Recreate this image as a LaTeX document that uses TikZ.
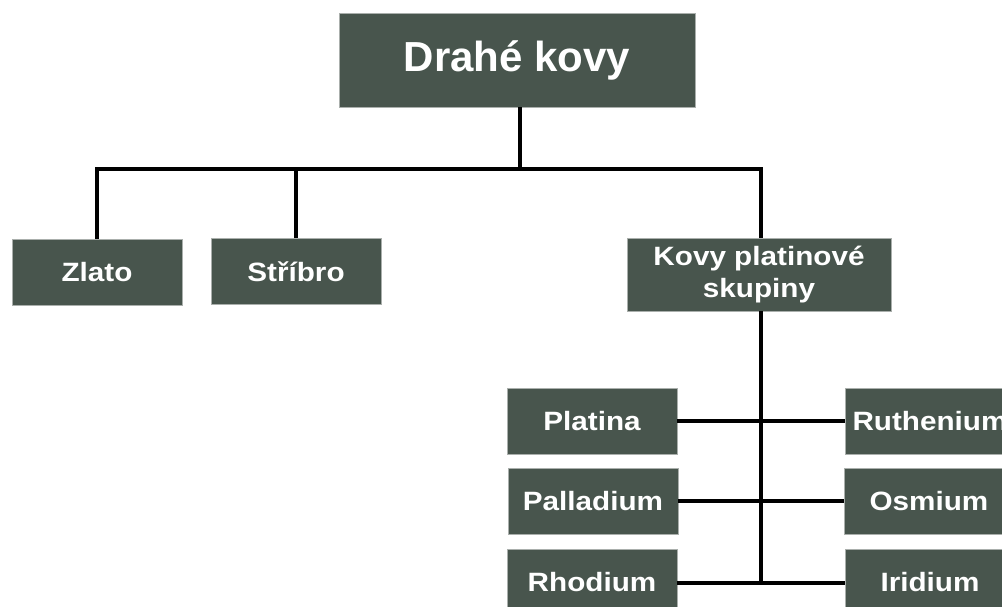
\documentclass[tikz,border=0pt]{standalone}
\usepackage{fontspec}
\setmainfont{Liberation Sans}
\newfontfamily\boxfont[FakeStretch=1.12]{Liberation Sans}
\definecolor{boxgreen}{RGB}{72,85,77}
\definecolor{boxedge}{RGB}{170,175,172}
\begin{document}
\begin{tikzpicture}[x=1pt,y=-1pt,
  box/.style={fill=boxgreen,draw=boxedge,line width=0.8pt,text=white,inner sep=0pt,
    font=\boxfont\bfseries\fontsize{26.5}{32}\selectfont,align=center},
  small/.style={box,minimum width=170pt,minimum height=66pt},
  conn/.style={line width=4pt,black}]
\useasboundingbox (0,0) rectangle (1002,607);
\node[box,minimum width=356pt,minimum height=94pt,font=\bfseries\fontsize{42}{48}\selectfont] (top) at (517,60) {Drahé kovy};
\node[small] (zlato) at (97,272) {Zlato};
\node[small] (stribro) at (296,271.5) {Stříbro};
\node[box,minimum width=264pt,minimum height=73pt] (kps) at (759,274.5) {Kovy platinové\\skupiny};
\node[small] (platina) at (592,421) {Platina};
\node[small] (pallad) at (593,501) {Palladium};
\node[small] (rhod) at (592,582) {Rhodium};
\node[small] (ruth) at (930,421) {Ruthenium};
\node[small] (osm) at (929,501) {Osmium};
\node[small] (irid) at (930,582) {Iridium};
\coordinate (bus) at (520,169);
\coordinate (spine) at (761,583);
\draw[conn] (top.south -| bus) -- (bus);
\draw[conn] (zlato.north) |- (bus);
\draw[conn] (bus) -| (kps.north -| spine);
\draw[conn] (stribro.north) -- (stribro.north |- bus);
\draw[conn] (kps.south -| spine) -- (spine);
\draw[conn] (platina.east) -- (ruth.west);
\draw[conn] (pallad.east) -- (osm.west);
\draw[conn] (rhod.east |- spine) -- (irid.west |- spine);
\end{tikzpicture}
\end{document}
